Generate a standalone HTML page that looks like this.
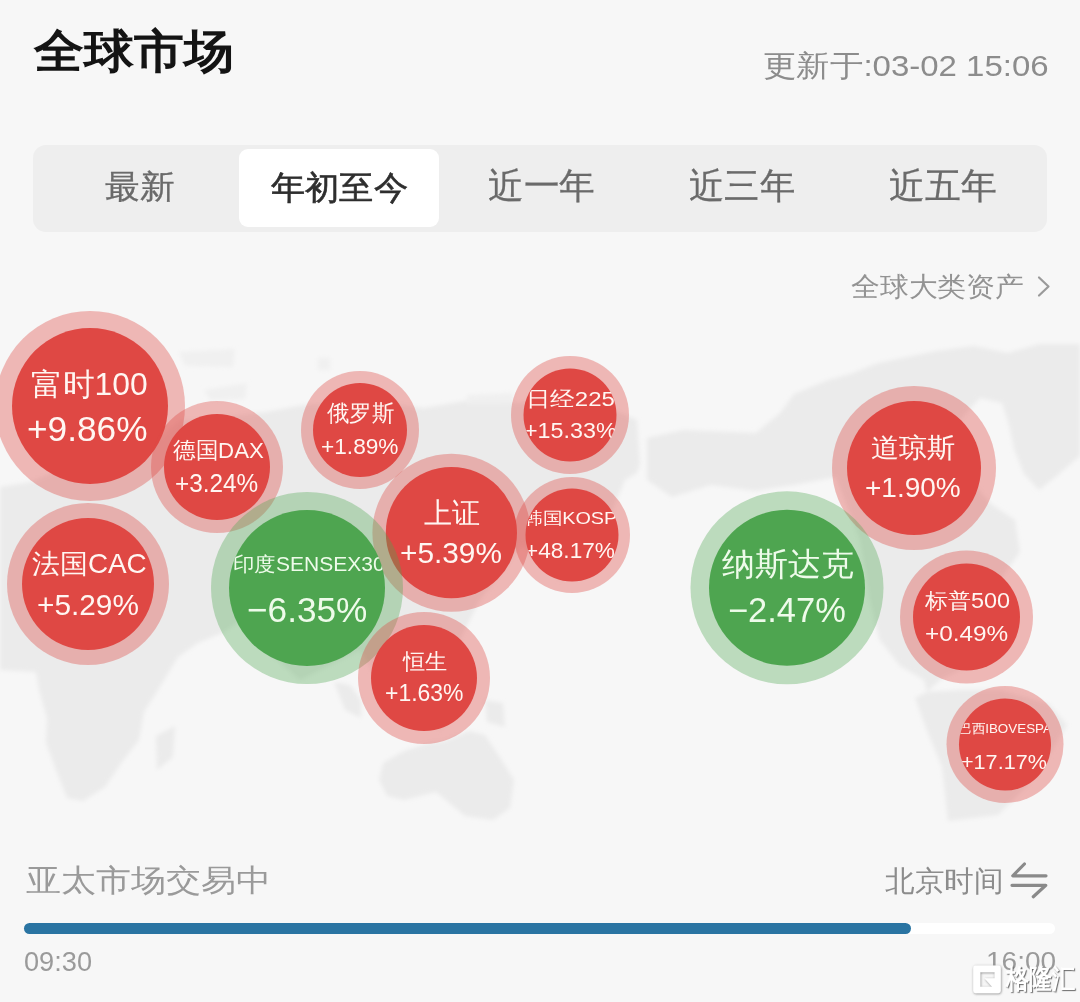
<!DOCTYPE html><html><head><meta charset="utf-8"><style>
html,body{margin:0;padding:0;width:1080px;height:1002px;overflow:hidden;background:#f7f7f7;}
body{position:relative;font-family:'Liberation Sans',sans-serif;}
.tx{position:absolute;white-space:nowrap;line-height:1;transform-origin:0 0;font-family:'Liberation Sans',sans-serif;}
.ab{position:absolute}
</style></head><body>
<div class="ab" style="left:33px;top:145px;width:1014px;height:87px;background:#eeeeee;border-radius:13px"></div>
<div class="ab" style="left:239px;top:149px;width:200px;height:78px;background:#ffffff;border-radius:9px"></div>
<div class="tx" style="left:33.99px;top:28.00px;font-size:46.46px;font-weight:400;color:#141414;transform:scaleX(1.0843);-webkit-text-stroke:1.5px #141414;">全球市场</div>
<div class="tx" style="left:762.75px;top:51.20px;font-size:29.59px;font-weight:400;color:#8c8c8c;transform:scaleX(1.1155);">更新于:03-02 15:06</div>
<div class="tx" style="left:104.91px;top:171.48px;font-size:32.50px;font-weight:400;color:#6a6a6a;transform:scaleX(1.0563);-webkit-text-stroke:0.3px currentColor;">最新</div>
<div class="tx" style="left:270.66px;top:170.67px;font-size:33.16px;font-weight:500;color:#2e2e2e;transform:scaleX(1.0363);-webkit-text-stroke:0.6px #2e2e2e;">年初至今</div>
<div class="tx" style="left:487.94px;top:169.43px;font-size:35.64px;font-weight:400;color:#6a6a6a;transform:scaleX(0.9912);-webkit-text-stroke:0.3px currentColor;">近一年</div>
<div class="tx" style="left:688.95px;top:169.43px;font-size:35.64px;font-weight:400;color:#6a6a6a;transform:scaleX(0.9816);-webkit-text-stroke:0.3px currentColor;">近三年</div>
<div class="tx" style="left:888.94px;top:169.43px;font-size:35.64px;font-weight:400;color:#6a6a6a;transform:scaleX(0.9960);-webkit-text-stroke:0.3px currentColor;">近五年</div>
<div class="tx" style="left:850.62px;top:272.93px;font-size:27.32px;font-weight:400;color:#939393;transform:scaleX(1.0673);">全球大类资产</div>
<div class="tx" style="left:25.60px;top:865.00px;font-size:30.99px;font-weight:400;color:#9a9a9a;transform:scaleX(1.1306);">亚太市场交易中</div>
<div class="tx" style="left:885.41px;top:866.71px;font-size:28.66px;font-weight:400;color:#8c8c8c;transform:scaleX(1.0216);">北京时间</div>
<div class="tx" style="left:24.41px;top:947.07px;font-size:28.17px;font-weight:400;color:#9a9a9a;transform:scaleX(0.9652);">09:30</div>
<div class="tx" style="left:986.26px;top:948.29px;font-size:26.06px;font-weight:400;color:#9a9a9a;transform:scaleX(1.0756);">16:00</div>
<svg class="ab" style="left:1030px;top:270px" width="24" height="34" viewBox="0 0 24 34"><path d="M9 7.5 L18.5 16.5 L9 25.5" fill="none" stroke="#9a9a9a" stroke-width="2.2" stroke-linecap="round" stroke-linejoin="round"/></svg>
<svg class="ab" style="left:0;top:0" width="1080" height="1002"><defs><filter id="bl" x="-5%" y="-5%" width="110%" height="110%"><feGaussianBlur stdDeviation="2"/></filter></defs><g filter="url(#bl)">
<polygon fill="#ebebeb" points="0,487 30,482 60,470 120,470 180,420 200,420 266,412 303,405 360,400 424,408 470,400 518,403 560,400 616,411 637,420 640,464 637,473 625,480 600,540 560,580 522,545 480,600 460,640 470,690 440,730 390,700 360,650 300,680 255,640 250,614 222,633 198,643 178,657 158,690 144,712 139,740 122,762 105,787 83,801 67,798 56,770 46,743 47,718 39,690 36,672 0,670"/>
<polygon fill="#ebebeb" points="156,736 175,726 173,757 157,770"/>
<polygon fill="#ebebeb" points="334,682 350,685 361,700 361,718 345,710"/>
<polygon fill="#ebebeb" points="485,700 503,703 505,727 487,722"/>
<polygon fill="#ebebeb" points="383,763 404,751 428,743 444,741 469,731 485,735 501,759 514,780 510,808 493,820 465,816 436,792 404,800 387,796 379,780"/>
<polygon fill="#ebebeb" points="647,438 683,430 756,433 780,413 794,394 828,380 850,374 878,363 936,351 974,346 1008,353 1039,344 1080,344 1080,456 1053,479 1039,490 1024,474 1014,449 1009,425 1002,403 980,398 960,420 972,482 991,504 1015,520 1020,552 1000,580 985,640 960,670 940,680 927,692 924,680 900,666 879,639 870,600 860,540 836,477 794,485 755,491 711,485 672,497 647,480"/>
<polygon fill="#ebebeb" points="915,698 927,692 960,690 1000,690 1049,704 1067,725 1049,755 1025,788 998,815 948,821 945,794 942,767 927,731"/>
<polygon fill="#f0f0f0" points="179,352 235,349 233,367 185,366"/>
<polygon fill="#f0f0f0" points="204,390 247,383 245,399 210,400"/>
<polygon fill="#f0f0f0" points="318,358 330,358 330,370 318,370"/>
<polygon fill="#f0f0f0" points="467,395 513,393 513,403 467,404"/>
</g>
<circle cx="90" cy="406" r="95" fill="rgba(223,72,68,0.37)"/>
<circle cx="90" cy="406" r="78" fill="rgb(223,72,68)"/>
<circle cx="217" cy="467" r="66" fill="rgba(223,72,68,0.37)"/>
<circle cx="217" cy="467" r="53" fill="rgb(223,72,68)"/>
<circle cx="88" cy="584" r="81" fill="rgba(223,72,68,0.37)"/>
<circle cx="88" cy="584" r="66" fill="rgb(223,72,68)"/>
<circle cx="360" cy="430" r="59" fill="rgba(223,72,68,0.37)"/>
<circle cx="360" cy="430" r="47" fill="rgb(223,72,68)"/>
<circle cx="451.4" cy="532.7" r="79" fill="rgba(223,72,68,0.37)"/>
<circle cx="451.4" cy="532.7" r="65.6" fill="rgb(223,72,68)"/>
<circle cx="307" cy="588" r="96" fill="rgba(78,165,80,0.35)"/>
<circle cx="307" cy="588" r="78" fill="rgb(78,165,80)"/>
<circle cx="424" cy="678" r="66" fill="rgba(223,72,68,0.37)"/>
<circle cx="424" cy="678" r="53" fill="rgb(223,72,68)"/>
<circle cx="570" cy="415" r="59" fill="rgba(223,72,68,0.37)"/>
<circle cx="570" cy="415" r="46.5" fill="rgb(223,72,68)"/>
<circle cx="572" cy="535" r="58" fill="rgba(223,72,68,0.37)"/>
<circle cx="572" cy="535" r="46.5" fill="rgb(223,72,68)"/>
<circle cx="914" cy="468" r="82" fill="rgba(223,72,68,0.37)"/>
<circle cx="914" cy="468" r="67" fill="rgb(223,72,68)"/>
<circle cx="787" cy="587.8" r="96.5" fill="rgba(78,165,80,0.35)"/>
<circle cx="787" cy="587.8" r="78" fill="rgb(78,165,80)"/>
<circle cx="966.5" cy="617" r="66.5" fill="rgba(223,72,68,0.37)"/>
<circle cx="966.5" cy="617" r="53.5" fill="rgb(223,72,68)"/>
<circle cx="1005" cy="744.5" r="58.5" fill="rgba(223,72,68,0.37)"/>
<circle cx="1005" cy="744.5" r="46" fill="rgb(223,72,68)"/>
</svg>
<div class="ab" style="left:12px;top:328px;width:156px;height:156px;border-radius:50%;overflow:hidden">
<div class="tx" style="left:18.74px;top:41.00px;font-size:31.12px;font-weight:400;color:#fff6f2;transform:scaleX(1.0237);">富时100</div>
<div class="tx" style="left:15.24px;top:84.35px;font-size:35.63px;font-weight:400;color:#fff6f2;transform:scaleX(0.9894);">+9.86%</div>
</div>
<div class="ab" style="left:164px;top:414px;width:106px;height:106px;border-radius:50%;overflow:hidden">
<div class="tx" style="left:8.58px;top:25.47px;font-size:22.69px;font-weight:400;color:#fff6f2;transform:scaleX(0.9802);">德国DAX</div>
<div class="tx" style="left:11.48px;top:57.13px;font-size:25.77px;font-weight:400;color:#fff6f2;transform:scaleX(0.9449);">+3.24%</div>
</div>
<div class="ab" style="left:22px;top:518px;width:132px;height:132px;border-radius:50%;overflow:hidden">
<div class="tx" style="left:9.74px;top:33.49px;font-size:26.91px;font-weight:400;color:#fff6f2;transform:scaleX(1.0348);">法国CAC</div>
<div class="tx" style="left:14.61px;top:72.01px;font-size:29.30px;font-weight:400;color:#fff6f2;transform:scaleX(1.0169);">+5.29%</div>
</div>
<div class="ab" style="left:313px;top:383px;width:94px;height:94px;border-radius:50%;overflow:hidden">
<div class="tx" style="left:13.70px;top:19.31px;font-size:22.84px;font-weight:400;color:#fff6f2;transform:scaleX(0.9758);">俄罗斯</div>
<div class="tx" style="left:7.87px;top:52.66px;font-size:22.25px;font-weight:400;color:#fff6f2;transform:scaleX(1.0188);">+1.89%</div>
</div>
<div class="ab" style="left:385.79999999999995px;top:467.1px;width:131.2px;height:131.2px;border-radius:50%;overflow:hidden">
<div class="tx" style="left:37.94px;top:32.23px;font-size:29.10px;font-weight:400;color:#fff6f2;transform:scaleX(0.9689);">上证</div>
<div class="tx" style="left:14.11px;top:71.59px;font-size:28.73px;font-weight:400;color:#fff6f2;transform:scaleX(1.0378);">+5.39%</div>
</div>
<div class="ab" style="left:229px;top:510px;width:156px;height:156px;border-radius:50%;overflow:hidden">
<div class="tx" style="left:3.53px;top:44.80px;font-size:19.58px;font-weight:400;color:#eefbea;transform:scaleX(1.0734);">印度SENSEX30</div>
<div class="tx" style="left:17.84px;top:82.88px;font-size:35.49px;font-weight:400;color:#eefbea;transform:scaleX(0.9925);">−6.35%</div>
</div>
<div class="ab" style="left:371px;top:625px;width:106px;height:106px;border-radius:50%;overflow:hidden">
<div class="tx" style="left:31.96px;top:25.54px;font-size:21.89px;font-weight:400;color:#fff6f2;transform:scaleX(1.0099);">恒生</div>
<div class="tx" style="left:13.95px;top:56.99px;font-size:23.38px;font-weight:400;color:#fff6f2;transform:scaleX(0.9813);">+1.63%</div>
</div>
<div class="ab" style="left:523.5px;top:368.5px;width:93.0px;height:93.0px;border-radius:50%;overflow:hidden">
<div class="tx" style="left:2.10px;top:20.87px;font-size:20.65px;font-weight:400;color:#fff6f2;transform:scaleX(1.1618);">日经225</div>
<div class="tx" style="left:0.74px;top:52.91px;font-size:21.27px;font-weight:400;color:#fff6f2;transform:scaleX(1.0951);">+15.33%</div>
</div>
<div class="ab" style="left:525.5px;top:488.5px;width:93.0px;height:93.0px;border-radius:50%;overflow:hidden">
<div class="tx" style="left:-2.90px;top:21.89px;font-size:17.13px;font-weight:400;color:#fff6f2;transform:scaleX(1.1559);">韩国KOSPI</div>
<div class="tx" style="left:-0.13px;top:52.29px;font-size:21.41px;font-weight:400;color:#fff6f2;transform:scaleX(1.0567);">+48.17%</div>
</div>
<div class="ab" style="left:847px;top:401px;width:134px;height:134px;border-radius:50%;overflow:hidden">
<div class="tx" style="left:24.37px;top:34.00px;font-size:26.63px;font-weight:400;color:#fff6f2;transform:scaleX(1.0434);">道琼斯</div>
<div class="tx" style="left:18.30px;top:71.97px;font-size:28.17px;font-weight:400;color:#fff6f2;transform:scaleX(0.9946);">+1.90%</div>
</div>
<div class="ab" style="left:709px;top:509.79999999999995px;width:156px;height:156px;border-radius:50%;overflow:hidden">
<div class="tx" style="left:13.27px;top:38.85px;font-size:31.68px;font-weight:400;color:#eefbea;transform:scaleX(1.0287);">纳斯达克</div>
<div class="tx" style="left:18.58px;top:83.52px;font-size:34.51px;font-weight:400;color:#eefbea;transform:scaleX(0.9982);">−2.47%</div>
</div>
<div class="ab" style="left:913.0px;top:563.5px;width:107.0px;height:107.0px;border-radius:50%;overflow:hidden">
<div class="tx" style="left:11.70px;top:27.41px;font-size:21.40px;font-weight:400;color:#fff6f2;transform:scaleX(1.0955);">标普500</div>
<div class="tx" style="left:12.48px;top:59.93px;font-size:21.83px;font-weight:400;color:#fff6f2;transform:scaleX(1.1156);">+0.49%</div>
</div>
<div class="ab" style="left:959px;top:698.5px;width:92px;height:92px;border-radius:50%;overflow:hidden">
<div class="tx" style="left:-0.71px;top:24.94px;font-size:12.84px;font-weight:400;color:#fff6f2;transform:scaleX(1.0455);">巴西IBOVESPA</div>
<div class="tx" style="left:1.92px;top:52.95px;font-size:20.99px;font-weight:400;color:#fff6f2;transform:scaleX(1.0290);">+17.17%</div>
</div>
<div class="ab" style="left:24px;top:922.5px;width:1031px;height:11.5px;background:#ffffff;border-radius:6px"></div>
<div class="ab" style="left:24px;top:922.5px;width:887px;height:11.5px;background:#2a74a2;border-radius:6px"></div>
<svg class="ab" style="left:1000px;top:855px" width="60" height="50" viewBox="1000 855 60 50"><path d="M1024.4 864 L1012.8 875.8 L1046 875.8 M1012 885.3 L1045.8 885.3 L1033.3 896.7" fill="none" stroke="#8a8a8a" stroke-width="3.2" stroke-linecap="round" stroke-linejoin="round"/></svg>
<svg class="ab" style="left:966px;top:958px" width="42" height="44" viewBox="966 958 42 44"><defs><filter id="sh" x="-30%" y="-30%" width="160%" height="160%"><feDropShadow dx="0.5" dy="0.7" stdDeviation="0.8" flood-color="#707070" flood-opacity="0.85"/></filter></defs><g filter="url(#sh)"><path fill="#ffffff" fill-rule="evenodd" d="M975.6 965.6 H998.4 Q1000.8 965.6 1000.8 968 V990.8 Q1000.8 993.2 998.4 993.2 H975.6 Q973.2 993.2 973.2 990.8 V968 Q973.2 965.6 975.6 965.6 Z M980.3 972.2 V986.8 H992 L984.5 978.2 H994.6 V972.2 Z"/></g></svg>
<div class="tx" style="left:1006px;top:966px;font-size:27px;font-weight:700;color:#ffffff;text-shadow:0.6px 0.8px 1.2px rgba(90,90,90,0.9);transform:scaleX(0.86)">格隆汇</div>
</body></html>
